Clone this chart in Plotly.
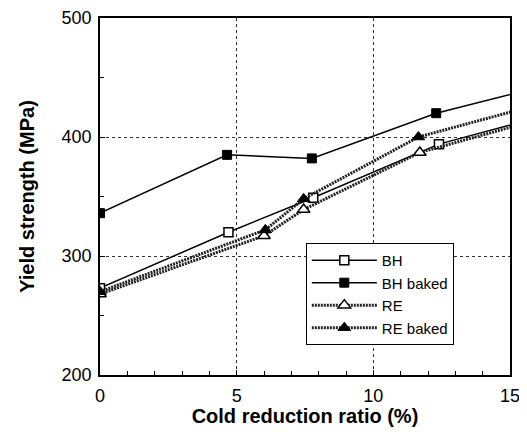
import plotly.graph_objects as go

# Data (x: cold reduction ratio %, y: yield strength MPa); last point lies beyond the axis range
bh_x = [0, 4.7, 7.8, 12.4, 20]
bh_y = [273, 320, 349, 394, 441]
bhb_x = [0, 4.65, 7.75, 12.3, 20]
bhb_y = [336, 385, 382, 420, 465]
re_x = [0, 6.0, 7.45, 11.7, 20]
re_y = [268, 317, 339, 387, 440]
reb_x = [0, 6.05, 7.45, 11.65, 20]
reb_y = [270, 322, 348, 400, 452]

FONT = "Liberation Sans, Arial, Helvetica, sans-serif"

fig = go.Figure()
fig.add_trace(go.Scatter(x=bh_x, y=bh_y, name="BH", mode="lines+markers",
                         line=dict(color="black", width=1.5),
                         marker=dict(symbol="square", size=9, color="white",
                                     line=dict(color="black", width=1.5))))
fig.add_trace(go.Scatter(x=bhb_x, y=bhb_y, name="BH baked", mode="lines+markers",
                         line=dict(color="black", width=1.5),
                         marker=dict(symbol="square", size=9, color="black",
                                     line=dict(color="black", width=1))))
fig.add_trace(go.Scatter(x=re_x, y=re_y, name="RE", mode="lines+markers",
                         line=dict(color="#222", width=3, dash="2px,1px"),
                         marker=dict(symbol="triangle-up", size=11, color="white",
                                     line=dict(color="black", width=1.5))))
fig.add_trace(go.Scatter(x=reb_x, y=reb_y, name="RE baked", mode="lines+markers",
                         line=dict(color="#222", width=3, dash="2px,1px"),
                         marker=dict(symbol="triangle-up", size=11, color="black",
                                     line=dict(color="black", width=1))))

fig.update_layout(
    width=517, height=419,
    margin=dict(l=92, r=15, t=10, b=52, autoexpand=False),
    paper_bgcolor="white", plot_bgcolor="white",
    font=dict(family=FONT, color="black", size=17),
    showlegend=True,
    legend=dict(x=0.502, y=0.37, xanchor="left", yanchor="top",
                bgcolor="white", bordercolor="black", borderwidth=1,
                font=dict(size=15, family=FONT), itemwidth=65,
                tracegroupgap=0),
)
fig.update_xaxes(
    range=[0, 15], dtick=5, tick0=0, automargin=False,
    tickfont=dict(size=18, family=FONT),
    showline=True, linecolor="black", linewidth=1.5, mirror=True,
    ticks="inside", ticklen=5, tickcolor="black",
    minor=dict(dtick=1, ticks="inside", ticklen=4, tickcolor="black", showgrid=False),
    showgrid=True, gridcolor="#333", griddash="dot", gridwidth=1,
    zeroline=False, ticklabelstandoff=4,
    title=dict(text="<b>Cold reduction ratio (%)</b>", font=dict(size=20, family=FONT), standoff=2),
)
fig.update_yaxes(
    range=[200, 500], dtick=100, tick0=200, automargin=False,
    tickfont=dict(size=18, family=FONT),
    showline=True, linecolor="black", linewidth=1.5, mirror=True,
    ticks="inside", ticklen=5, tickcolor="black",
    minor=dict(dtick=50, ticks="inside", ticklen=4, tickcolor="black", showgrid=False),
    showgrid=True, gridcolor="#333", griddash="dot", gridwidth=1,
    zeroline=False, ticklabelstandoff=3,
    title=dict(text="<b>Yield strength (MPa)</b>", font=dict(size=20, family=FONT), standoff=22),
)

fig.write_html("out.html")
